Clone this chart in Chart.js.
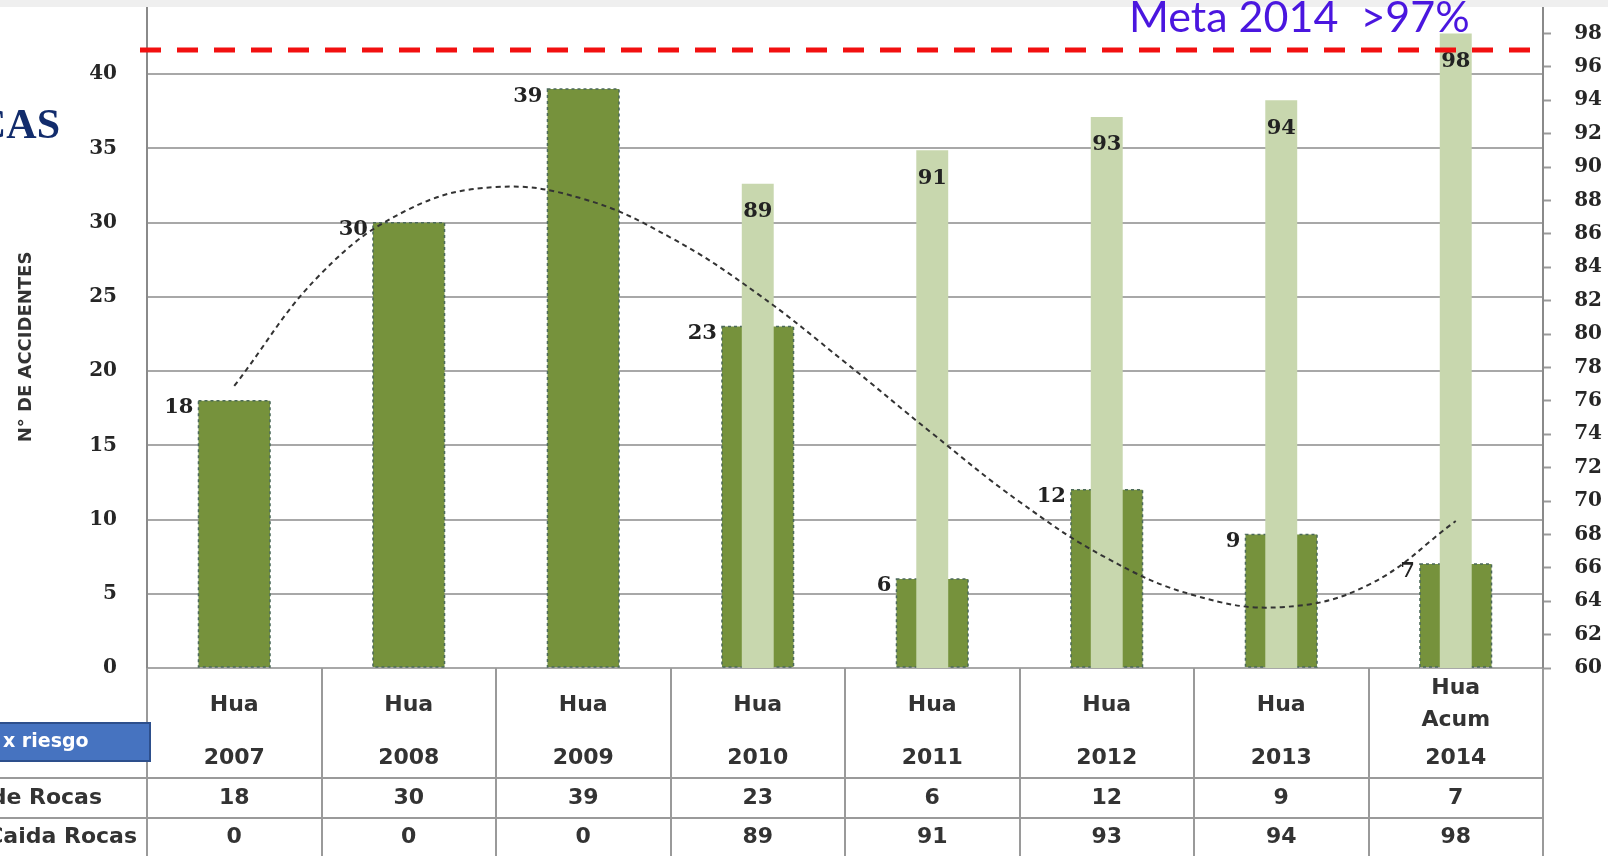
<!DOCTYPE html>
<html>
<head>
<meta charset="utf-8">
<script src="https://cdn.jsdelivr.net/npm/chart.js@4.4.1/dist/chart.umd.min.js"></script>
<style>
  html, body { margin: 0; padding: 0; background: #fff; overflow: hidden; width: 1608px; height: 856px; }
  #wrap { position: absolute; left: 0; top: -40px; width: 1608px; }
</style>
</head>
<body>
<div id="wrap"><canvas id="c" width="1608" height="896"></canvas></div>
<script>
// Categories (two-line headers in the data table)
const categoryNames = [['Hua'], ['Hua'], ['Hua'], ['Hua'], ['Hua'], ['Hua'], ['Hua'], ['Hua', 'Acum']];
const years = ['2007', '2008', '2009', '2010', '2011', '2012', '2013', '2014'];

// Series
const accidentes = [18, 30, 39, 23, 6, 12, 9, 7];          // N° de accidentes (left axis)
const cumplimiento = [0, 0, 0, 89, 91, 93, 94, 98];        // % cumplimiento (right axis)

// Polynomial trend of accidents, sampled every half year (x = category position 1..8)
const trendX = [1, 1.5, 2, 2.5, 3, 3.5, 4, 4.5, 5, 5.5, 6, 6.5, 7, 7.5, 8];
const trendY = [19.0, 26.6, 30.9, 32.4, 31.6, 29.0, 25.2, 20.6, 15.8, 11.2, 7.4, 4.9, 4.1, 5.6, 9.9];

// Goal line
const META = 97;
const metaText = 'Meta 2014  >97%';

// Table row captions
const rowHeader = 'x riesgo';
const rowNames = ['de Rocas', 'Caida Rocas'];

const PLOT_H = 668;     // plot height on the page
const TABLE_H = 188;    // data table below the plot

const labels = categoryNames.map((n, i) => n.join(' ') + ' ' + years[i]);

const darkBorder = {
  id: 'darkBorder',
  afterDatasetDraw(chart, args) {
    if (args.index !== 0) return;
    const ctx = chart.ctx;
    ctx.save();
    ctx.setLineDash([3, 3]);
    ctx.lineWidth = 1.5;
    ctx.strokeStyle = '#4c6a5a';
    args.meta.data.forEach(el => {
      const { x, y, base, width } = el.getProps(['x', 'y', 'base', 'width'], true);
      ctx.strokeRect(x - width / 2, y, width, base - y);
    });
    ctx.restore();
  }
};

const valueLabels = {
  id: 'valueLabels',
  afterDatasetsDraw(chart) {
    const ctx = chart.ctx;
    ctx.save();
    ctx.font = 'bold 21px "DejaVu Serif"';
    ctx.fillStyle = '#222';
    ctx.textBaseline = 'middle';
    const dark = chart.getDatasetMeta(0);
    dark.data.forEach((el, i) => {
      const { x, y, width } = el.getProps(['x', 'y', 'width'], true);
      ctx.textAlign = 'right';
      ctx.fillText(String(accidentes[i]), x - width / 2 - 5, y + 7);
    });
    const light = chart.getDatasetMeta(1);
    light.data.forEach((el, i) => {
      if (!cumplimiento[i]) return;
      const { x, y } = el.getProps(['x', 'y'], true);
      ctx.textAlign = 'center';
      ctx.fillText(String(cumplimiento[i]), x, y + 28);
    });
    ctx.restore();
  }
};

const decor = {
  id: 'decor',
  afterDraw(chart) {
    const ctx = chart.ctx;
    const a = chart.chartArea;
    const V = y => y + a.top;      // page y -> canvas y
    const n = categoryNames.length;
    const w = (a.right - a.left) / n;
    const b = a.bottom;
    ctx.save();

    // data table grid
    ctx.strokeStyle = '#9a9a9a';
    ctx.lineWidth = 2;
    ctx.beginPath();
    for (let i = 0; i <= n; i++) {
      const x = Math.round(a.left + i * w);
      ctx.moveTo(x, b);
      ctx.lineTo(x, chart.height);
    }
    ctx.moveTo(0, b + 110); ctx.lineTo(a.right, b + 110);
    ctx.moveTo(0, b + 150); ctx.lineTo(a.right, b + 150);
    ctx.stroke();

    // table text
    ctx.fillStyle = '#333';
    ctx.font = 'bold 22px "DejaVu Sans"';
    ctx.textAlign = 'center';
    ctx.textBaseline = 'middle';
    for (let i = 0; i < n; i++) {
      const cx = a.left + (i + 0.5) * w;
      const names = categoryNames[i];
      if (names.length === 1) {
        ctx.fillText(names[0], cx, b + 37);
      } else {
        ctx.fillText(names[0], cx, b + 20);
        ctx.fillText(names[1], cx, b + 52);
      }
      ctx.fillText(years[i], cx, b + 90);
      ctx.fillText(String(accidentes[i]), cx, b + 130);
      ctx.fillText(String(cumplimiento[i]), cx, b + 169);
    }
    ctx.textAlign = 'right';
    ctx.fillText(rowNames[0], 102, b + 130);
    ctx.fillText(rowNames[1], 137, b + 169);

    // header box
    ctx.fillStyle = '#4673c0';
    ctx.fillRect(0, b + 55, 150, 38);
    ctx.strokeStyle = '#2d4f8c';
    ctx.lineWidth = 2;
    ctx.strokeRect(-2, b + 55, 152, 38);
    ctx.fillStyle = '#fff';
    ctx.font = 'bold 19px "DejaVu Sans"';
    ctx.textAlign = 'left';
    ctx.fillText(rowHeader, 3, b + 74);

    // axis title
    ctx.save();
    ctx.translate(26, V(347));
    ctx.rotate(-Math.PI / 2);
    ctx.fillStyle = '#333';
    ctx.font = 'bold 18px "DejaVu Sans"';
    ctx.textAlign = 'center';
    ctx.textBaseline = 'middle';
    ctx.fillText('N° DE ACCIDENTES', 0, 0);
    ctx.restore();

    // slide title fragment
    ctx.fillStyle = '#122c6c';
    ctx.font = 'bold 42px "Liberation Serif"';
    ctx.textAlign = 'right';
    ctx.textBaseline = 'alphabetic';
    ctx.fillText('CAS', 60, V(138));

    // goal line
    const yMeta = chart.scales.y1.getPixelForValue(META);
    ctx.strokeStyle = '#f21010';
    ctx.lineWidth = 5;
    ctx.setLineDash([21, 16]);
    ctx.beginPath();
    ctx.moveTo(a.left - 7, yMeta);
    ctx.lineTo(a.right, yMeta);
    ctx.stroke();
    ctx.setLineDash([]);

    // top band
    ctx.fillStyle = '#efefef';
    ctx.fillRect(0, 0, chart.width, V(7));

    ctx.fillStyle = '#4a16df';
    ctx.font = '43px Lato';
    ctx.textAlign = 'left';
    ctx.textBaseline = 'alphabetic';
    ctx.fillText(metaText, 1129, V(32));
    ctx.restore();
  }
};

const tickFont = { family: 'DejaVu Serif', weight: 'bold', size: 20 };

const chart = new Chart(document.getElementById('c'), {
  type: 'bar',
  data: {
    labels: labels,
    datasets: [
      {
        label: 'Accidentes',
        data: accidentes,
        yAxisID: 'y',
        backgroundColor: '#76923c',
        borderWidth: 0,
        categoryPercentage: 1,
        barPercentage: 0.41,
        grouped: false,
        order: 3
      },
      {
        label: '% Cumplimiento',
        data: cumplimiento.map(v => (v > 0 ? v : null)),
        yAxisID: 'y1',
        backgroundColor: '#c8d7ae',
        borderWidth: 0,
        categoryPercentage: 1,
        barPercentage: 0.183,
        grouped: false,
        order: 2
      },
      {
        type: 'line',
        label: 'Tendencia',
        data: trendX.map((x, i) => ({ x: x, y: trendY[i] })),
        xAxisID: 'xt',
        yAxisID: 'y',
        borderColor: '#333',
        borderWidth: 2,
        borderDash: [5, 4],
        pointRadius: 0,
        tension: 0.4,
        fill: false,
        order: 1
      }
    ]
  },
  options: {
    responsive: false,
    maintainAspectRatio: false,
    animation: false,
    devicePixelRatio: 1,
    layout: { padding: { top: 0, bottom: TABLE_H, left: 0, right: 6 } },
    plugins: { legend: { display: false }, tooltip: { enabled: false } },
    scales: {
      x: { display: false, offset: true },
      xt: { type: 'linear', display: false, offset: false, min: 0.5, max: 8.5, grid: { offset: false } },
      y: {
        position: 'left',
        min: 0, max: 45,
        ticks: { stepSize: 5, font: tickFont, color: '#262626', padding: 30, autoSkip: false },
        grid: { color: '#a8a8a8', lineWidth: 2, drawTicks: false },
        border: { color: '#8a8a8a', width: 2 },
        afterFit: s => { s.width = 147; }
      },
      y1: {
        position: 'right',
        min: 60, max: 100,
        ticks: { stepSize: 2, font: tickFont, color: '#262626', crossAlign: 'far', autoSkip: false, padding: 6 },
        grid: { drawOnChartArea: false, drawTicks: true, tickLength: 8, tickColor: '#9a9a9a', tickWidth: 2 },
        border: { color: '#8a8a8a', width: 2 },
        afterFit: s => { s.width = 59; }
      }
    }
  },
  plugins: [darkBorder, valueLabels, decor]
});

// size the canvas so the plot spans PLOT_H and its top sits at the page top
const topGap = Math.round(chart.chartArea.top);
chart.resize(1608, topGap + PLOT_H + TABLE_H);
document.getElementById('wrap').style.top = (-Math.round(chart.chartArea.top)) + 'px';
</script>
</body>
</html>
